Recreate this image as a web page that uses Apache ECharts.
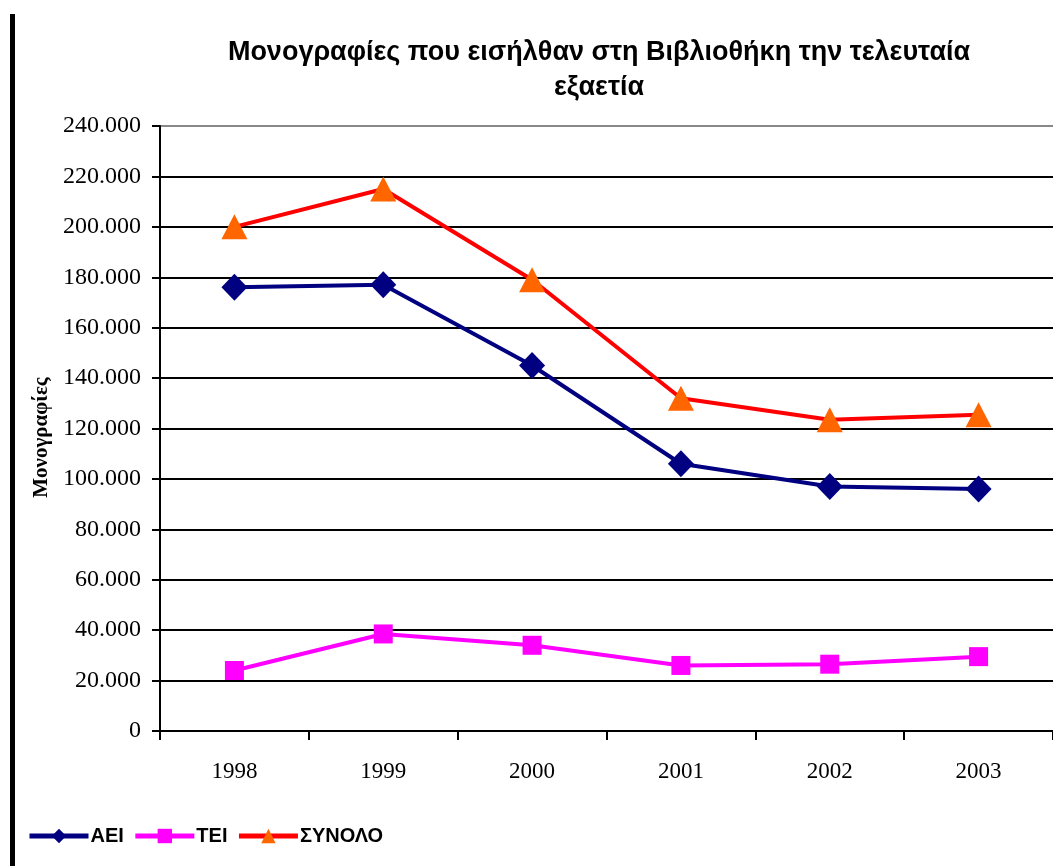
<!DOCTYPE html>
<html>
<head>
<meta charset="utf-8">
<script src="https://cdn.jsdelivr.net/npm/echarts@6/dist/echarts.min.js"></script>
<style>html,body{margin:0;padding:0;background:#fff;}#c{width:1053px;height:866px;}</style>
</head>
<body>
<div id="c"></div>
<script>
const categories = ['1998', '1999', '2000', '2001', '2002', '2003'];
const aei = [176000, 177000, 145000, 106000, 97000, 96000];
const tei = [24000, 38500, 34000, 26000, 26500, 29500];
const synolo = [200000, 215000, 179000, 132000, 123500, 125500];
const seriesNames = ['ΑΕΙ', 'ΤΕΙ', 'ΣΥΝΟΛΟ'];
const titleText = 'Μονογραφίες που εισήλθαν στη Βιβλιοθήκη την τελευταία\nεξαετία';
const yAxisName = 'Μονογραφίες';

function fmt(v) {
  if (v === 0) return '0';
  return String(v).replace(/\B(?=(\d{3})+(?!\d))/g, '.');
}

const chart = echarts.init(document.getElementById('c'), null, {renderer: 'canvas'});
chart.setOption({
  animation: false,
  backgroundColor: '#fff',
  title: {
    text: titleText,
    left: 594, top: 30, textAlign: 'center',
    textStyle: {fontFamily: 'Liberation Sans', fontWeight: 'bold', fontSize: 27, lineHeight: 35, color: '#000'}
  },
  graphic: [{type: 'rect', shape: {x: 10, y: 14, width: 5, height: 860}, style: {fill: '#000'}}],
  grid: {left: 160, top: 126, width: 894, height: 605},
  legend: {
    left: 22, top: 821, itemGap: 9, itemWidth: 59, itemHeight: 18,
    lineStyle: {width: 5},
    textStyle: {fontFamily: 'Liberation Sans', fontWeight: 'bold', fontSize: 20, color: '#000', padding: [0, 0, 0, -3]},
    data: seriesNames
  },
  xAxis: {
    type: 'category', data: categories, boundaryGap: true,
    axisLine: {lineStyle: {color: '#000', width: 2}},
    axisTick: {show: true, length: 9, lineStyle: {color: '#000', width: 2}},
    axisLabel: {fontFamily: 'Liberation Serif', fontSize: 23, color: '#000', margin: 29},
    splitLine: {show: false}
  },
  yAxis: {
    type: 'value', min: 0, max: 240000, interval: 20000,
    name: yAxisName, nameLocation: 'middle', nameGap: 106, nameRotate: 90,
    nameTextStyle: {fontFamily: 'Liberation Serif', fontWeight: 'bold', fontSize: 21, color: '#000', padding: [0, 18, 0, 0]},
    axisLine: {show: true, lineStyle: {color: '#000', width: 2}},
    axisTick: {show: true, length: 8, lineStyle: {color: '#000', width: 2}},
    axisLabel: {fontFamily: 'Liberation Serif', fontSize: 24, color: '#000', margin: 19, formatter: fmt},
    splitLine: {show: true, lineStyle: {color: ['#000','#000','#000','#000','#000','#000','#000','#000','#000','#000','#000','#000','#888'], width: 2}}
  },
  series: [
    {name: seriesNames[0], type: 'line', data: aei, symbol: 'diamond', symbolSize: [26, 27],
     lineStyle: {color: '#000080', width: 4}, itemStyle: {color: '#000080'}},
    {name: seriesNames[1], type: 'line', data: tei, symbol: 'rect', symbolSize: 19,
     lineStyle: {color: '#FF00FF', width: 4}, itemStyle: {color: '#FF00FF'}},
    {name: seriesNames[2], type: 'line', data: synolo, symbol: 'triangle', symbolSize: [26, 25],
     lineStyle: {color: '#FF0000', width: 4}, itemStyle: {color: '#FF6600'}}
  ]
});
</script>
</body>
</html>
